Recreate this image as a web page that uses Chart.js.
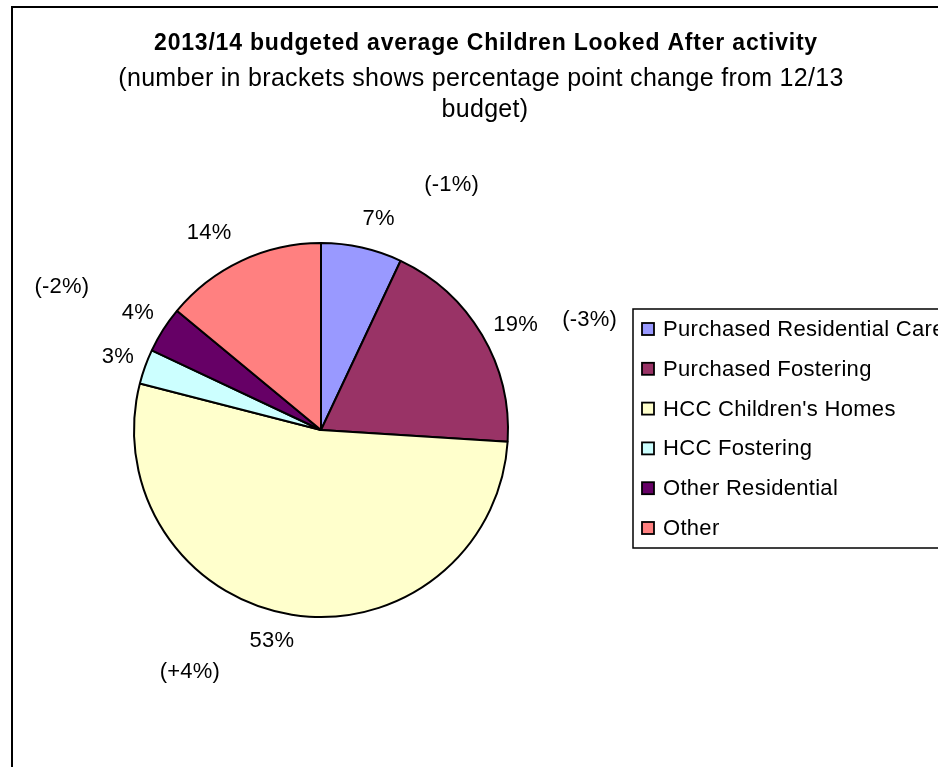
<!DOCTYPE html>
<html>
<head>
<meta charset="utf-8">
<title>2013/14 budgeted average Children Looked After activity</title>
<script src="https://cdn.jsdelivr.net/npm/chart.js"></script>
<style>
  body { margin: 0; background: #fff; }
  #wrap { width: 938px; height: 767px; position: relative; }
</style>
</head>
<body>
<div id="wrap"><canvas id="claChart"></canvas></div>
<script>
// Budgeted CLA mix, clockwise from 12 o'clock
const categories = ['Purchased Residential Care', 'Purchased Fostering', "HCC Children's Homes", 'HCC Fostering', 'Other Residential', 'Other'];
const shares = [7, 19, 53, 3, 4, 14];
// percentage point change from the 12/13 budget (null = not shown)
const changes = [-1, -3, 4, null, -2, null];

const colours = ['#9999FF', '#993366', '#FFFFCC', '#CCFFFF', '#660066', '#FF8080'];

const titleText = '2013/14 budgeted average Children Looked After activity';
const subtitleLines = ['(number in brackets shows percentage point change from 12/13', 'budget)'];

// hand nudges for the outside % labels [dx, dy]
const pctNudge = [[10, 2], [7, 6], [-15, -4], [2, 1], [1, 0], [-19, 0]];
// bracket labels are placed relative to their % label
const chgOffset = [[73, -34], [74, -5], [-82, 31], null, [-76, -26], null];

const FONT = '"Liberation Sans", Arial, sans-serif';

function fmtChange(v) {
  return '(' + (v > 0 ? '+' : '') + v + '%)';
}

// frame, titles, outside labels and boxed legend
const claDecor = {
  id: 'claDecor',
  beforeDraw(chart) {
    const ctx = chart.ctx;
    ctx.save();
    ctx.fillStyle = '#fff';
    ctx.fillRect(0, 0, chart.width, chart.height);
    ctx.restore();
  },
  afterDraw(chart) {
    const ctx = chart.ctx;
    ctx.save();

    // outer frame runs off the right and bottom edges
    ctx.strokeStyle = '#000';
    ctx.lineWidth = 2;
    ctx.strokeRect(12, 7, 1000, 900);

    ctx.fillStyle = '#000';
    ctx.textAlign = 'center';
    ctx.textBaseline = 'alphabetic';
    ctx.font = 'bold 23px ' + FONT;
    ctx.letterSpacing = '0.8px';
    ctx.fillText(titleText, 486, 50);

    ctx.font = '25px ' + FONT;
    ctx.letterSpacing = '0.3px';
    ctx.fillText(subtitleLines[0], 481, 86);
    ctx.fillText(subtitleLines[1], 485, 117);

    // % labels and bracketed changes
    ctx.font = '22px ' + FONT;
    ctx.letterSpacing = '0.2px';
    ctx.textBaseline = 'middle';
    const meta = chart.getDatasetMeta(0);
    meta.data.forEach((arc, i) => {
      const mid = (arc.startAngle + arc.endAngle) / 2;
      const r = arc.outerRadius + 31;
      const x = arc.x + Math.cos(mid) * r + pctNudge[i][0];
      const y = arc.y + Math.sin(mid) * r + pctNudge[i][1];
      ctx.fillText(shares[i] + '%', x, y);
      if (changes[i] !== null) {
        ctx.fillText(fmtChange(changes[i]), x + chgOffset[i][0], y + chgOffset[i][1]);
      }
    });

    // legend box
    ctx.lineWidth = 1.5;
    ctx.strokeRect(633, 309, 400, 239);
    ctx.textAlign = 'left';
    ctx.font = '22px ' + FONT;
    ctx.letterSpacing = '0.3px';
    categories.forEach((name, i) => {
      const cy = 329 + i * 39.8;
      ctx.fillStyle = colours[i];
      ctx.fillRect(642, cy - 6, 12, 12);
      ctx.strokeStyle = '#000';
      ctx.lineWidth = 1.8;
      ctx.strokeRect(642, cy - 6, 12, 12);
      ctx.fillStyle = '#000';
      ctx.fillText(name, 663, cy + 1);
    });

    ctx.restore();
  }
};

new Chart(document.getElementById('claChart'), {
  type: 'pie',
  data: {
    labels: categories,
    datasets: [{
      data: shares,
      backgroundColor: colours,
      borderColor: '#000',
      borderWidth: 2
    }]
  },
  options: {
    responsive: true,
    maintainAspectRatio: false,
    animation: false,
    layout: { padding: { left: 133, right: 429, top: 242, bottom: 149 } },
    plugins: {
      legend: { display: false },
      tooltip: { enabled: false }
    }
  },
  plugins: [claDecor]
});
</script>
</body>
</html>
